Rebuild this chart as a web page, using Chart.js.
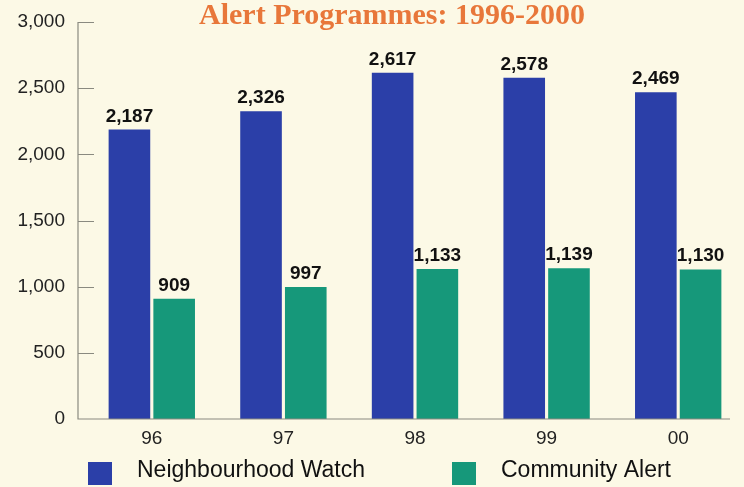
<!DOCTYPE html>
<html>
<head>
<meta charset="utf-8">
<script src="https://cdn.jsdelivr.net/npm/chart.js@4.4.0/dist/chart.umd.min.js"></script>
<style>
  html, body { margin: 0; padding: 0; background: #fcf9e6; }
  #wrap { width: 744px; height: 487px; }
</style>
</head>
<body>
<div id="wrap"><canvas id="alertChart" width="744" height="487"></canvas></div>
<script>
const years = ['96', '97', '98', '99', '00'];
const neighbourhoodWatch = [2187, 2326, 2617, 2578, 2469];
const communityAlert = [909, 997, 1133, 1139, 1130];
const yTicks = [0, 500, 1000, 1500, 2000, 2500, 3000];

const titleText = 'Alert Programmes: 1996-2000';
const blue = '#2b3fa8';
const green = '#16987a';
const sans = '"Liberation Sans", Arial, sans-serif';

// title, axis lines, inner tick marks, value labels and legend
const extras = {
  id: 'extras',
  afterDraw(chart) {
    const ctx = chart.ctx;
    const area = chart.chartArea;
    const y = chart.scales.y;
    ctx.save();

    // title
    ctx.fillStyle = '#e8773a';
    ctx.font = 'bold 30px "Liberation Serif", "DejaVu Serif", serif';
    ctx.textAlign = 'center';
    ctx.textBaseline = 'middle';
    ctx.fillText(titleText, 392, 16);

    // axes
    const axisX = 78;
    ctx.strokeStyle = '#8a8a80';
    ctx.lineWidth = 1.2;
    ctx.beginPath();
    ctx.moveTo(axisX, y.getPixelForValue(3000));
    ctx.lineTo(axisX, area.bottom);
    ctx.lineTo(730, area.bottom);
    ctx.stroke();
    ctx.lineWidth = 1;
    yTicks.forEach(v => {
      if (v === 0) return;
      const py = Math.round(y.getPixelForValue(v)) + 0.5;
      ctx.beginPath();
      ctx.moveTo(axisX, py);
      ctx.lineTo(axisX + 16, py);
      ctx.stroke();
    });

    // value labels
    ctx.fillStyle = '#111';
    ctx.font = 'bold 19px ' + sans;
    ctx.textBaseline = 'alphabetic';
    chart.data.datasets.forEach((ds, i) => {
      chart.getDatasetMeta(i).data.forEach((bar, j) => {
        ctx.fillText(ds.data[j].toLocaleString('en-US'), bar.x, bar.y - 8);
      });
    });

    // legend
    ctx.font = '23px ' + sans;
    ctx.textAlign = 'left';
    ctx.textBaseline = 'middle';
    const legendItems = [
      { x: 88, color: blue, label: chart.data.datasets[0].label },
      { x: 452, color: green, label: chart.data.datasets[1].label }
    ];
    legendItems.forEach(it => {
      ctx.fillStyle = it.color;
      ctx.fillRect(it.x, 462, 24, 23);
      ctx.fillStyle = '#111';
      ctx.fillText(it.label, it.x + 49, 471);
    });
    ctx.restore();
  }
};

new Chart(document.getElementById('alertChart'), {
  type: 'bar',
  data: {
    labels: years,
    datasets: [
      { label: 'Neighbourhood Watch', data: neighbourhoodWatch, backgroundColor: blue },
      { label: 'Community Alert', data: communityAlert, backgroundColor: green }
    ]
  },
  options: {
    responsive: false,
    animation: false,
    layout: { autoPadding: false, padding: { top: 22, right: 0, left: 0, bottom: 0 } },
    datasets: { bar: { categoryPercentage: 0.68, barPercentage: 0.93 } },
    plugins: {
      legend: { display: false },
      title: { display: false },
      tooltip: { enabled: false }
    },
    scales: {
      x: {
        grid: { display: false, drawTicks: false },
        border: { display: false },
        ticks: { color: '#222', font: { family: sans, size: 19 }, padding: 8 },
        afterFit: s => { s.height = 68; s.paddingLeft = 0; s.paddingRight = 0; }
      },
      y: {
        min: 0,
        max: 3000,
        grid: { display: false, drawTicks: false },
        border: { display: false },
        afterBuildTicks: s => { s.ticks = yTicks.map(v => ({ value: v })); },
        ticks: {
          color: '#222',
          font: { family: sans, size: 19 },
          padding: 21,
          callback: v => v.toLocaleString('en-US')
        },
        afterFit: s => { s.width = 86; s.paddingTop = 0; s.paddingBottom = 0; }
      }
    }
  },
  plugins: [extras]
});
</script>
</body>
</html>
